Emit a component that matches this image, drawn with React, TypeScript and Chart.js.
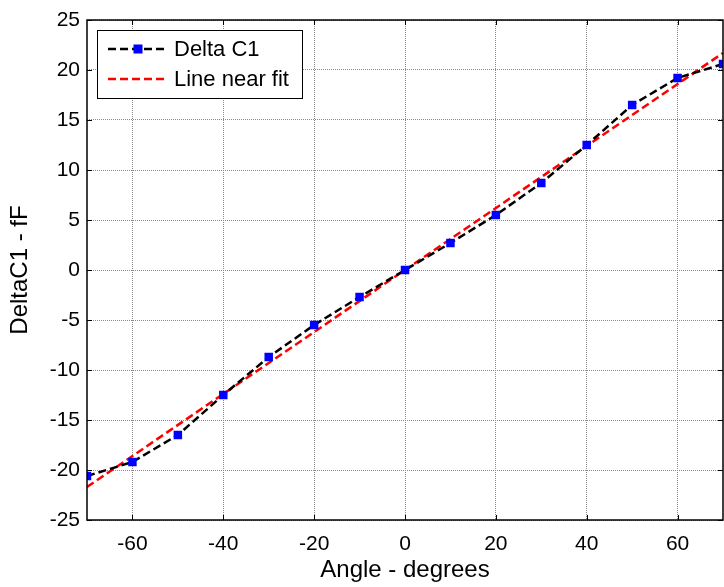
import React, { useEffect, useRef } from "react";
import { Chart, registerables } from "chart.js";

Chart.register(...registerables);

const angles = [-70, -60, -50, -40, -30, -20, -10, 0, 10, 20, 30, 40, 50, 60, 70];
const deltaC1 = [-20.6, -19.2, -16.5, -12.5, -8.7, -5.5, -2.7, 0, 2.7, 5.5, 8.7, 12.5, 16.5, 19.2, 20.6];
const fitX = [-70, 70];
const fitY = [-21.7, 21.7];
const xTicks = [-60, -40, -20, 0, 20, 40, 60];
const yTicks = [-25, -20, -15, -10, -5, 0, 5, 10, 15, 20, 25];
const seriesLabels = ["Delta C1", "Line near fit"];
const xTitle = "Angle - degrees";
const yTitle = "DeltaC1 - fF";

const FONT = "'Liberation Sans', Arial, sans-serif";

const boxPlugin = {
  id: "matlabBox",
  afterDatasetsDraw(chart: any) {
    const { ctx, chartArea } = chart;
    const { left, right, top, bottom } = chartArea;
    const xs = chart.scales.x;
    const ys = chart.scales.y;
    ctx.save();
    ctx.strokeStyle = "#000";
    ctx.lineWidth = 1;
    const tl = 5;
    ctx.beginPath();
    xTicks.forEach((v) => {
      const px = Math.round(xs.getPixelForValue(v)) + 0.5;
      ctx.moveTo(px, bottom);
      ctx.lineTo(px, bottom - tl);
      ctx.moveTo(px, top);
      ctx.lineTo(px, top + tl);
    });
    yTicks.forEach((v) => {
      const py = Math.round(ys.getPixelForValue(v)) + 0.5;
      ctx.moveTo(left, py);
      ctx.lineTo(left + tl, py);
      ctx.moveTo(right, py);
      ctx.lineTo(right - tl, py);
    });
    ctx.stroke();
    ctx.lineWidth = 1.5;
    ctx.strokeRect(left, top, right - left, bottom - top);
    ctx.restore();
  },
  afterDraw(chart: any) {
    const { ctx, chartArea } = chart;
    const bx = chartArea.left + 10;
    const by = chartArea.top + 10;
    const bw = 205;
    const bh = 68;
    ctx.save();
    ctx.fillStyle = "#fff";
    ctx.fillRect(bx, by, bw, bh);
    ctx.strokeStyle = "#000";
    ctx.lineWidth = 1;
    ctx.strokeRect(bx + 0.5, by + 0.5, bw, bh);
    chart.data.datasets.forEach((ds: any, i: number) => {
      const cy = by + 19 + i * 30;
      ctx.strokeStyle = ds.borderColor;
      ctx.lineWidth = ds.borderWidth;
      ctx.setLineDash(ds.borderDash || []);
      ctx.beginPath();
      ctx.moveTo(bx + 11, cy);
      ctx.lineTo(bx + 67, cy);
      ctx.stroke();
      ctx.setLineDash([]);
      if (ds.pointRadius > 0) {
        ctx.fillStyle = ds.pointBackgroundColor;
        const s = 9;
        ctx.fillRect(bx + 41 - s / 2, cy - s / 2, s, s);
      }
      ctx.fillStyle = "#000";
      ctx.font = `22px ${FONT}`;
      ctx.textBaseline = "middle";
      ctx.textAlign = "left";
      ctx.fillText(ds.label, bx + 77, cy + 1);
    });
    ctx.restore();
  },
};

export default function App() {
  const ref = useRef<HTMLCanvasElement>(null);
  useEffect(() => {
    if (!ref.current) return;
    const chart = new Chart(ref.current, {
      type: "line",
      data: {
        datasets: [
          {
            label: seriesLabels[0],
            data: angles.map((a, i) => ({ x: a, y: deltaC1[i] })),
            borderColor: "#000000",
            borderWidth: 2.5,
            borderDash: [8, 4],
            pointStyle: "rect",
            pointRadius: 6,
            pointBackgroundColor: "#0000ff",
            pointBorderColor: "#0000ff",
            pointBorderWidth: 0,
            tension: 0,
            fill: false,
          },
          {
            label: seriesLabels[1],
            data: fitX.map((a, i) => ({ x: a, y: fitY[i] })),
            borderColor: "#ff0000",
            borderWidth: 2.5,
            borderDash: [8, 4],
            pointRadius: 0,
            tension: 0,
            fill: false,
          },
        ],
      },
      options: {
        responsive: false,
        animation: false,
        layout: { autoPadding: false, padding: { top: 20, right: 1, left: 0, bottom: 0 } },
        plugins: { legend: { display: false }, tooltip: { enabled: false } },
        scales: {
          x: {
            type: "linear",
            min: -70,
            max: 70,
            afterBuildTicks: (axis: any) => {
              axis.ticks = xTicks.map((v) => ({ value: v }));
            },
            afterFit: (axis: any) => {
              axis.height = 67;
            },
            grid: { color: "#8a8a8a", lineWidth: 1, drawTicks: false },
            border: { display: false, dash: [1, 1] },
            ticks: {
              color: "#000",
              padding: 12,
              font: { family: FONT, size: 21 },
              maxRotation: 0,
            },
            title: {
              display: true,
              text: xTitle,
              color: "#000",
              font: { family: FONT, size: 24, lineHeight: 1 },
              padding: { top: 0, bottom: 5 },
            },
          },
          y: {
            type: "linear",
            min: -25,
            max: 25,
            afterBuildTicks: (axis: any) => {
              axis.ticks = yTicks.map((v) => ({ value: v }));
            },
            afterFit: (axis: any) => {
              axis.width = 87;
            },
            grid: { color: "#8a8a8a", lineWidth: 1, drawTicks: false },
            border: { display: false, dash: [1, 1] },
            ticks: {
              color: "#000",
              padding: 7,
              font: { family: FONT, size: 21 },
            },
            title: {
              display: true,
              text: yTitle,
              color: "#000",
              font: { family: FONT, size: 24, lineHeight: 1 },
              padding: { top: 8, bottom: 0 },
            },
          },
        },
      },
      plugins: [boxPlugin],
    });
    return () => chart.destroy();
  }, []);
  return (
    <div style={{ position: "absolute", left: 0, top: 0, width: 724, height: 587, background: "#fff" }}>
      <canvas ref={ref} width={724} height={587} />
    </div>
  );
}
